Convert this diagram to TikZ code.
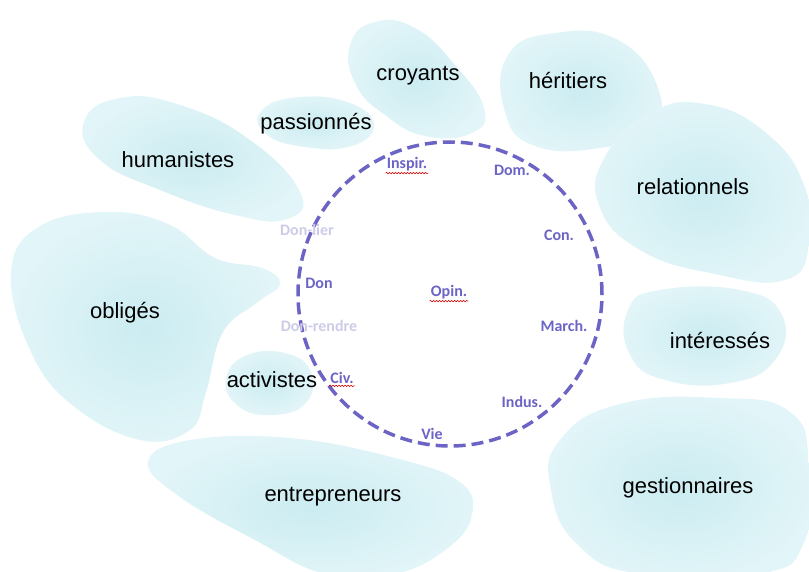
\documentclass[tikz,border=0pt]{standalone}
\usepackage{fontspec}
\setmainfont{Liberation Sans}
\newfontfamily\carlito{Carlito}
\usetikzlibrary{decorations.pathmorphing}
\definecolor{blobin}{RGB}{203,236,241}
\definecolor{blobout}{RGB}{226,245,248}
\definecolor{ringviolet}{RGB}{108,100,196}
\definecolor{ringfaded}{RGB}{204,204,232}

\begin{document}
\begin{tikzpicture}[x=1pt, y=-1pt,
    blob/.style={inner color=blobin, outer color=blobout},
    group/.style={font=\fontsize{22}{26}\selectfont, text=black, inner sep=1pt},
    logic/.style={font=\carlito\bfseries\fontsize{16}{19}\selectfont, text=ringviolet, inner sep=1pt},
    faded/.style={logic, text=ringfaded},
    squiggle/.style={draw=red!85!black, line width=0.6pt,
                     decorate, decoration={snake, amplitude=0.7pt, segment length=3pt}}
  ]
    \useasboundingbox (0,0) rectangle (809,572);

    \shade[blob] plot[smooth cycle, tension=0.8] coordinates {(350,45) (375,22) (415,28) (455,65) (484,108) (472,133) (425,136) (385,115) (356,85)};
    \shade[blob] plot[smooth cycle, tension=0.8] coordinates {(508,55) (555,33) (618,40) (658,88) (650,130) (600,148) (535,146) (505,112)};
    \shade[blob] plot[smooth cycle, tension=0.8] coordinates {(262,110) (300,97) (350,103) (374,125) (352,146) (305,147) (266,134)};
    \shade[blob] plot[smooth cycle, tension=0.8] coordinates {(84,122) (120,98) (180,105) (250,140) (300,192) (287,219) (235,215) (160,190) (100,160)};
    \shade[blob] plot[smooth cycle, tension=0.8] coordinates {(606,155) (650,113) (705,104) (765,132) (804,185) (809,245) (785,280) (715,274) (640,250) (599,205)};
    \shade[blob] plot[smooth cycle, tension=0.8] coordinates {(628,310) (660,290) (740,290) (782,315) (775,360) (730,383) (665,380) (630,355)};
    \shade[blob] plot[smooth cycle, tension=0.8] coordinates {(560,440) (620,404) (720,398) (790,412) (809,465) (805,540) (760,574) (640,574) (578,545) (551,490)};
    \shade[blob] plot[smooth cycle, tension=0.7] coordinates {(11,272) (40,226) (110,212) (170,225) (215,258) (262,268) (280,284) (258,302) (223,332) (206,392) (190,430) (140,440) (72,405) (30,350)};
    \shade[blob] plot[smooth cycle, tension=0.8] coordinates {(226,380) (245,356) (285,353) (311,372) (305,404) (270,415) (238,406)};
    \shade[blob] plot[smooth cycle, tension=0.7] coordinates {(148,462) (190,440) (290,438) (395,458) (460,482) (472,515) (448,548) (395,574) (325,574) (255,540) (180,497)};

    \node[group] (croyants) at (418,76) {croyants};
    \node[group] (heritiers) at (568,81) {héritiers};
    \node[group] (passionnes) at (316,124) {passionnés};
    \node[group] (humanistes) at (178,160) {humanistes};
    \node[group] (relationnels) at (693,187) {relationnels};
    \node[group] (obliges) at (125,313) {obligés};
    \node[group] (interesses) at (720,341) {intéressés};
    \node[group] (activistes) at (272,380) {activistes};
    \node[group] (entrepreneurs) at (333,497) {entrepreneurs};
    \node[group] (gestionnaires) at (688,488) {gestionnaires};

    \node[draw=ringviolet, line width=3.5pt, dash pattern=on 12pt off 6pt,
          circle, minimum size=304pt, inner sep=0pt] (ring) at (450,294) {};

    \node[logic] (inspir) at (407,164) {Inspir.};
    \node[logic] (dom) at (512,170) {Dom.};
    \node[logic] (con) at (559,235) {Con.};
    \node[logic] (march) at (564,326) {March.};
    \node[logic] (indus) at (522,402) {Indus.};
    \node[logic] (vie) at (432,434) {Vie};
    \node[logic] (civ) at (342,378) {Civ.};
    \node[logic] (don) at (319,283) {Don};
    \node[logic] (opin) at (449,292) {Opin.};
    \node[faded] (donlier) at (307,230) {Don-lier};
    \node[faded] (donrendre) at (319,326) {Don-rendre};

    \draw[squiggle] ([yshift=-1pt]inspir.south west) -- ([yshift=-1pt]inspir.south east);
    \draw[squiggle] ([yshift=-1pt]civ.south west) -- ([yshift=-1pt]civ.south east);
    \draw[squiggle] ([yshift=-1pt]opin.south west) -- ([yshift=-1pt]opin.south east);
  \end{tikzpicture}
\end{document}
